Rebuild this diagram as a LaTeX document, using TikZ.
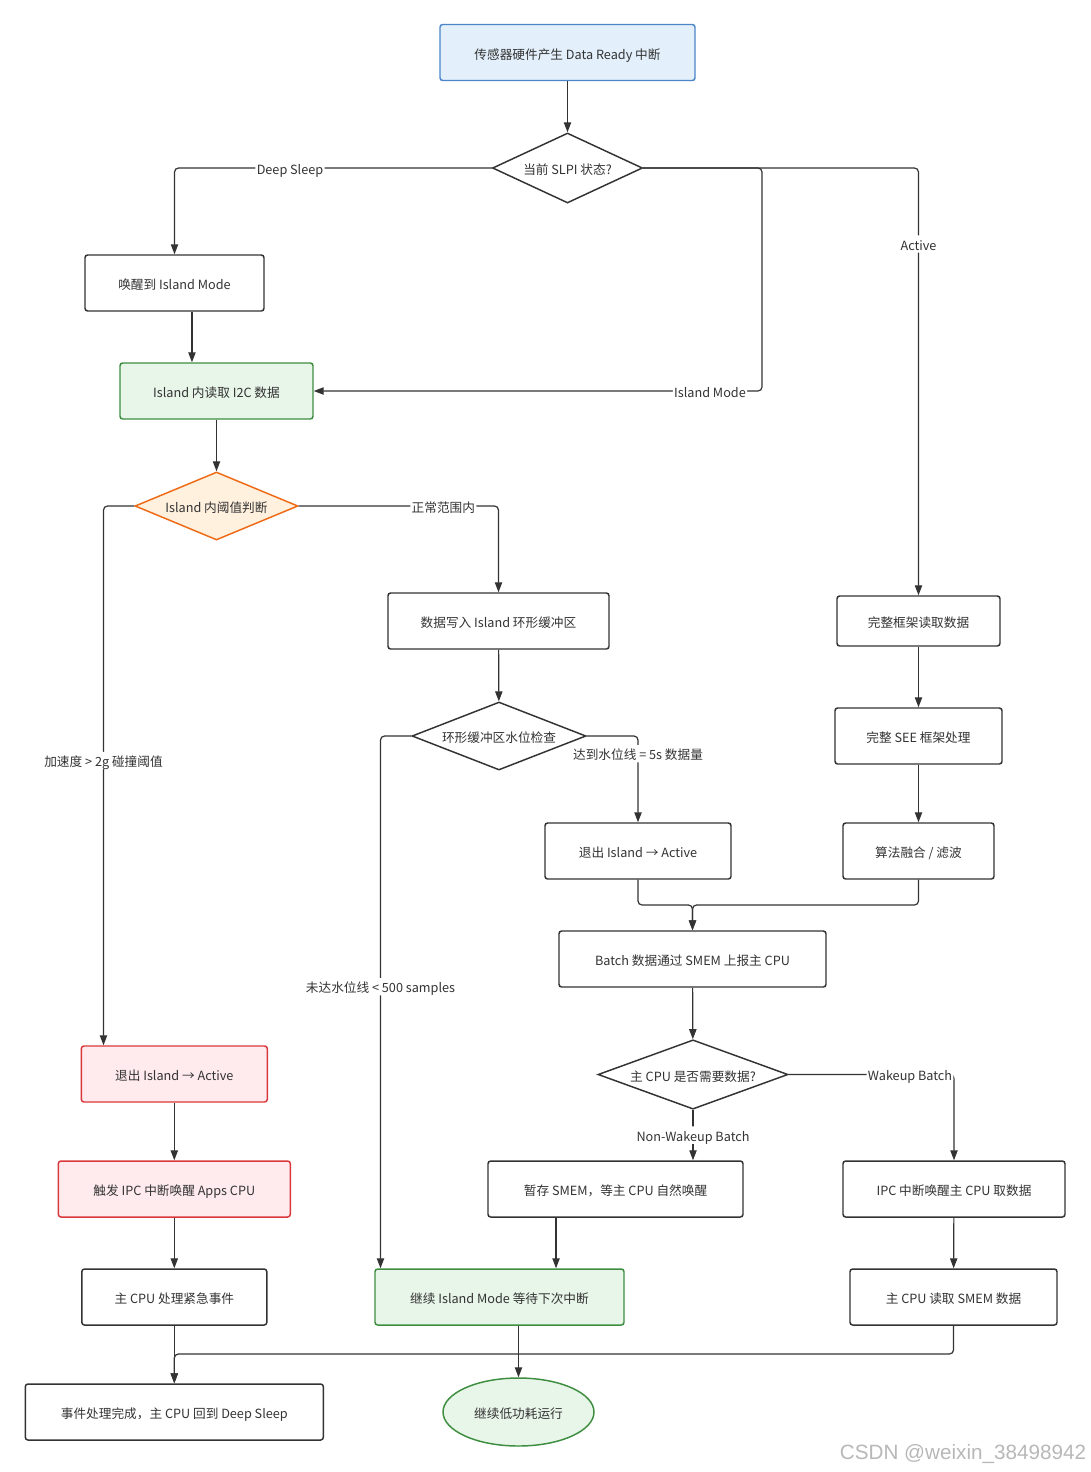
\documentclass[tikz,border=0pt]{standalone}
\usepackage{fontspec}
\setmainfont{Noto Sans CJK SC}
\newfontfamily\wmfont{Liberation Sans}
\usetikzlibrary{shapes.geometric,arrows.meta}
\definecolor{txt}{HTML}{333333}
\definecolor{ln}{HTML}{333333}
\definecolor{bluef}{HTML}{E3F0FB}
\definecolor{blued}{HTML}{4A86C8}
\definecolor{greenf}{HTML}{E8F5E9}
\definecolor{greend}{HTML}{3E8E41}
\definecolor{redf}{HTML}{FFEBEE}
\definecolor{redd}{HTML}{D9383A}
\definecolor{orf}{HTML}{FFF1DE}
\definecolor{ord}{HTML}{EE6A14}
\newcommand{\fs}{\fontsize{9.5pt}{11pt}\selectfont}
\tikzset{
  box/.style={draw=ln, line width=1.1pt, rounded corners=2pt, fill=white, text=txt,
    minimum height=42pt, inner sep=0pt, font=\fs, text height=10.5pt, text depth=0.5pt},
  bluebox/.style={box, fill=bluef, draw=blued},
  greenbox/.style={box, fill=greenf, draw=greend},
  redbox/.style={box, fill=redf, draw=redd},
  dia/.style={diamond, draw=ln, fill=white, line width=1.1pt, inner sep=0pt},
  intext/.style={font=\fs, text=txt, inner sep=0pt, text height=10.5pt, text depth=0.5pt},
  arr/.style={draw=ln, line width=0.9pt, -{Triangle[length=7.5pt,width=5.5pt]}, rounded corners=3pt},
  lbl/.style={fill=white, text=txt, inner sep=1pt, font=\fs, text height=10pt, text depth=1pt}
}
\begin{document}
\begin{tikzpicture}[x=0.75pt,y=-0.75pt]
\useasboundingbox (0,0) rectangle (1090,1472);
\fill[white] (0,0) rectangle (1090,1472);

% nodes
\node[bluebox, minimum width=191.25pt] (n1) at (567.5,52.5) {传感器硬件产生 Data Ready 中断};
\node[dia, minimum width=112.5pt, minimum height=52.5pt,
  label={[intext]center:当前 SLPI 状态?}] (d1) at (567.5,168) {};
\node[box, minimum width=134.25pt] (n2) at (174.5,283) {唤醒到 Island Mode};
\node[greenbox, minimum width=144.75pt] (n3) at (216.5,391) {Island 内读取 I2C 数据};
\node[dia, fill=orf, draw=ord, minimum width=122.25pt, minimum height=51pt,
  label={[intext]center:Island 内阈值判断}] (d2) at (216.5,506) {};
\node[box, minimum width=165.75pt] (n4) at (498.5,621) {数据写入 Island 环形缓冲区};
\node[dia, minimum width=130.5pt, minimum height=51pt,
  label={[intext]center:环形缓冲区水位检查}] (d3) at (499,736) {};
\node[box, minimum width=139.5pt] (n5) at (638,851) {退出 Island → Active};
\node[box, minimum width=122.25pt, minimum height=37.5pt] (n6) at (918.5,621) {完整框架读取数据};
\node[box, minimum width=125.25pt] (n7) at (918.5,736) {完整 SEE 框架处理};
\node[box, minimum width=113.25pt] (n8) at (918.5,851) {算法融合 / 滤波};
\node[box, minimum width=200.25pt] (n9) at (692.5,959) {Batch 数据通过 SMEM 上报主 CPU};
\node[dia, minimum width=142.5pt, minimum height=52pt,
  label={[intext]center:主 CPU 是否需要数据?}] (d4) at (693,1074.5) {};
\node[redbox, minimum width=139.5pt] (n10) at (174.3,1074) {退出 Island → Active};
\node[redbox, minimum width=174pt] (n11) at (174.3,1189) {触发 IPC 中断唤醒 Apps CPU};
\node[box, minimum width=138.75pt] (n12) at (174.3,1297) {主 CPU 处理紧急事件};
\node[box, minimum width=191.25pt] (n13) at (615.5,1189) {暂存 SMEM，等主 CPU 自然唤醒};
\node[box, minimum width=166.5pt] (n14) at (954,1189) {IPC 中断唤醒主 CPU 取数据};
\node[greenbox, minimum width=186.75pt] (n15) at (499.5,1297) {继续 Island Mode 等待下次中断};
\node[box, minimum width=155.25pt] (n16) at (953.5,1297) {主 CPU 读取 SMEM 数据};
\node[box, minimum width=223.5pt] (n17) at (174.3,1412) {事件处理完成，主 CPU 回到 Deep Sleep};
\node[ellipse, draw=greend, fill=greenf, line width=1.1pt, text=txt, font=\fs, inner sep=0pt,
  text height=10.5pt, text depth=0.5pt,
  minimum width=113.25pt, minimum height=51pt] (e1) at (518.5,1412) {继续低功耗运行};

% waypoints
\coordinate (w1) at (762,168);
\coordinate (w2) at (103.5,506);
\coordinate (w3) at (380.5,736);
\coordinate (j1) at (692.5,905);
\coordinate (j2) at (174.3,1354);

% edges
\draw[arr] (n1) -- (d1);
\draw[arr] (d1.west) -| node[lbl, pos=0.318] {Deep Sleep} (n2.north);
\draw[arr] (d1.east) -- (w1) |- node[lbl, pos=0.558] {Island Mode} (n3.east);
\draw[arr] (d1.east) -| node[lbl, pos=0.589] {Active} (n6.north);
\draw[arr] ([xshift=13.1pt]n2.south) -- ([xshift=-18.4pt]n3.north);
\draw[arr] (n3) -- (d2);
\draw[arr] (d2.west) -- (w2) -- node[lbl, pos=0.472] {加速度 > 2g 碰撞阈值} (w2 |- n10.north);
\draw[arr] (d2.east) -| node[lbl, pos=0.362] {正常范围内} (n4.north);
\draw[arr] (n4) -- (d3);
\draw[arr] (d3.west) -- (w3) -- node[lbl, pos=0.471] {未达水位线 < 500 samples} (w3 |- n15.north);
\draw[arr] (d3.east) -| node[lbl, pos=0.603] {达到水位线 = 5s 数据量} (n5.north);
\draw[arr] (n6) -- (n7);
\draw[arr] (n7) -- (n8);
\draw[arr] (n5.south) |- (j1) -- (n9.north);
\draw[arr] (n8.south) |- (j1) -- (n9.north);
\draw[arr] (n9) -- (d4);
\draw[arr] (d4.east) -| node[lbl, pos=0.367] {Wakeup Batch} (n14.north);
\draw[arr] (d4.south) -- node[lbl, pos=0.5] {Non-Wakeup Batch} (d4.south |- n13.north);
\draw[arr] (n10) -- (n11);
\draw[arr] (n11) -- (n12);
\draw[arr] ([xshift=-44.6pt]n13.south) -- ([xshift=42.4pt]n15.north);
\draw[arr] (n14) -- (n16);
\draw[arr] (n12.south) -- (n17.north);
\draw[arr] (n16.south) |- (j2) -- (n17.north);
\draw[arr] ([xshift=14.25pt]n15.south) -- (e1.north);

% watermark
\node[font=\wmfont\fontsize{15.5pt}{17pt}\selectfont, text=black!28, inner sep=0pt] (wm) at (963,1454) {CSDN @weixin\_38498942};
\end{tikzpicture}
\end{document}
